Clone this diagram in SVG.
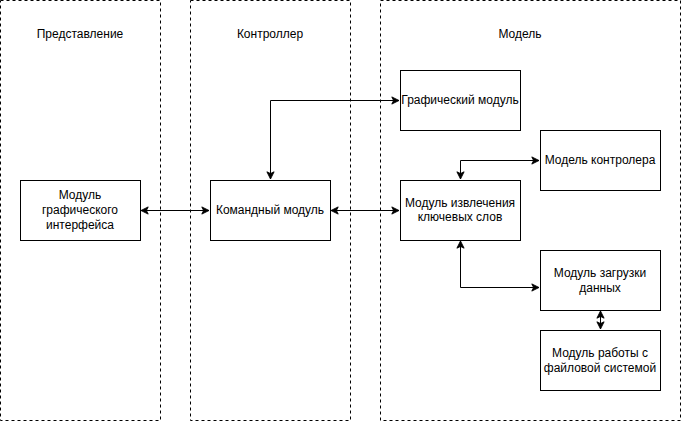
<svg xmlns="http://www.w3.org/2000/svg" width="681" height="421" viewBox="0 0 681 421">
<style>
.lane{fill:#fff;stroke:#000;stroke-dasharray:3 3}
.box{fill:#fff;stroke:#000}
text{font-family:"Liberation Sans",Arial,sans-serif;font-size:12px;fill:#000;text-anchor:middle}
.edge{fill:none;stroke:#000}
</style>
<defs>
<marker id="a" viewBox="0 0 10 10" refX="9" refY="5" markerWidth="9" markerHeight="9" markerUnits="userSpaceOnUse" orient="auto-start-reverse">
<path d="M1,1 L9,5 L1,9 L3,5 Z" fill="#000" stroke="#000"/>
</marker>
</defs>
<rect width="681" height="421" fill="#fff"/>
<g id="lane-view"><rect class="lane" x="0.5" y="0.5" width="160" height="420"/><text x="80" y="38">Представление</text></g>
<g id="lane-controller"><rect class="lane" x="190.5" y="0.5" width="160" height="420"/><text x="270" y="38">Контроллер</text></g>
<g id="lane-model"><rect class="lane" x="380.5" y="0.5" width="300" height="420"/><text x="520" y="38">Модель</text></g>
<g id="connectors">
<path class="edge" d="M141,210.5 H209" marker-start="url(#a)" marker-end="url(#a)"/>
<path class="edge" d="M331,210.5 H399" marker-start="url(#a)" marker-end="url(#a)"/>
<path class="edge" d="M270.5,179 V100.5 H399" marker-start="url(#a)" marker-end="url(#a)"/>
<path class="edge" d="M460.5,179 V160.5 H539" marker-start="url(#a)" marker-end="url(#a)"/>
<path class="edge" d="M460.5,241 V287.5 H539" marker-start="url(#a)" marker-end="url(#a)"/>
<path class="edge" d="M600.5,311 V329" marker-start="url(#a)" marker-end="url(#a)"/>
</g>
<g id="n-gui"><rect class="box" x="20.5" y="180.5" width="120" height="60"/><text x="80" y="199">Модуль</text><text x="80" y="214">графического</text><text x="80" y="229">интерфейса</text></g>
<g id="n-cmd"><rect class="box" x="210.5" y="180.5" width="120" height="60"/><text x="270" y="214">Командный модуль</text></g>
<g id="n-graph"><rect class="box" x="400.5" y="70.5" width="120" height="60"/><text x="460" y="104">Графический модуль</text></g>
<g id="n-mctrl"><rect class="box" x="540.5" y="130.5" width="120" height="60"/><text x="600" y="164">Модель контролера</text></g>
<g id="n-kw"><rect class="box" x="400.5" y="180.5" width="120" height="60"/><text x="460" y="207">Модуль извлечения</text><text x="460" y="221">ключевых слов</text></g>
<g id="n-load"><rect class="box" x="540.5" y="250.5" width="120" height="60"/><text x="600" y="277">Модуль загрузки</text><text x="600" y="292">данных</text></g>
<g id="n-fs"><rect class="box" x="540.5" y="330.5" width="120" height="60"/><text x="600" y="357">Модуль работы с</text><text x="600" y="372">файловой системой</text></g>
</svg>
